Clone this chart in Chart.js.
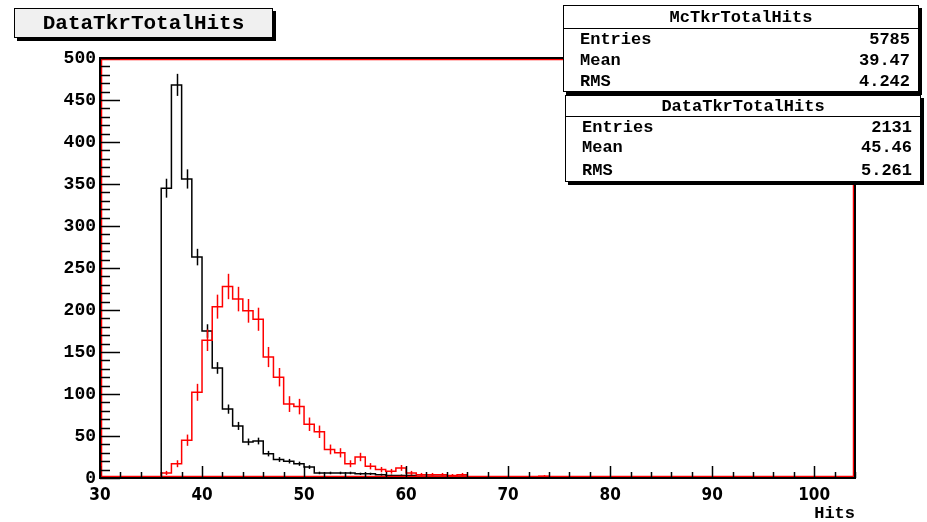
<!DOCTYPE html>
<html>
<head>
<meta charset="utf-8">
<script src="https://cdn.jsdelivr.net/npm/chart.js@4/dist/chart.umd.min.js"></script>
<style>
    body { margin: 0; background: #ffffff; }
    #wrap { position: relative; width: 927px; height: 522px; overflow: hidden; }
    #wrap canvas { position: absolute; left: 0; top: 0; }
    .box { position: absolute; border: 1px solid #000; box-shadow: 3px 3px 0 #000; font-family: "Liberation Mono", monospace; font-weight: bold; color: #000; }
    .txt { position: absolute; font-size: 17px; line-height: 20px; white-space: nowrap; }
</style>
</head>
<body>
<div id="wrap">
    <canvas id="graphHits" width="927" height="522"></canvas>

    <div class="box" style="left:14px; top:8px; width:257px; height:28px; background:#f0f0f0;">
        <div class="txt" style="left:0; width:257px; top:4px; text-align:center; font-size:21px; line-height:22px;">DataTkrTotalHits</div>
    </div>

    <div class="box" id="statsMc" style="left:563px; top:5px; width:354px; height:85px; background:#fff;"></div>
    <div class="box" id="statsData" style="left:565px; top:95px; width:354px; height:85px; background:#fff;"></div>
</div>

<script>
//Données - histogrammes TkrTotalHits (bins de largeur 1, premier bin = 36)
var binStart = 36;
var xMin = 30;
var xMax = 104;
var mcCounts = [345, 468, 356, 263, 175, 131, 82, 62, 43, 44, 29, 22, 20, 17, 13, 6, 6, 6, 6, 5, 5, 4, 3, 3, 3, 2, 2, 2, 2, 2, 0, 0, 0, 0, 1];
var dataCounts = [6, 17, 45, 102, 164, 204, 228, 213, 199, 189, 144, 120, 88, 85, 64, 55, 34, 30, 17, 25, 14, 10, 8, 12, 6, 4, 4, 4, 3, 4, 1, 1, 0, 0, 0, 1, 1, 2, 1];
var yTicks = [0, 50, 100, 150, 200, 250, 300, 350, 400, 450, 500];
var xTicks = [30, 40, 50, 60, 70, 80, 90, 100];

//Stats
var mcStats = { name: 'McTkrTotalHits', entries: '5785', mean: '39.47', rms: '4.242' };
var dataStats = { name: 'DataTkrTotalHits', entries: '2131', mean: '45.46', rms: '5.261' };

//MC normalisé sur les données -> erreur réduite
var mcScale = 2131 / 5785;

//Points au centre des bins sur toute la plage
function BuildPoints(counts) {
    var pts = [];
    for (var x = xMin; x < xMax; x++) {
        var i = x - binStart;
        var v = (i >= 0 && i < counts.length) ? counts[i] : 0;
        pts.push({ x: x + 0.5, y: v });
    }
    return pts;
}

//Boites de stats
function FillStats(boxId, st, rows) {
    var box = document.getElementById(boxId);
    var html = '<div class="txt" style="left:0; width:354px; top:' + rows[0] + 'px; text-align:center;">' + st.name + '</div>';
    html += '<div style="position:absolute; left:0; right:0; top:' + rows[4] + 'px; border-top:1px solid #000;"></div>';
    var labels = ['Entries', 'Mean', 'RMS'];
    var vals = [st.entries, st.mean, st.rms];
    for (var i = 0; i < 3; i++) {
        html += '<div class="txt" style="left:16px; top:' + rows[i + 1] + 'px;">' + labels[i] + '</div>';
        html += '<div class="txt" style="right:8px; top:' + rows[i + 1] + 'px; text-align:right;">' + vals[i] + '</div>';
    }
    box.innerHTML = html;
}
FillStats('statsMc', mcStats, [2, 24, 45, 66, 22]);
FillStats('statsData', dataStats, [1, 22, 42, 65, 20]);

//Plugin - ticks internes, barres d'erreur, cadre
var rootStyle = {
    id: 'rootStyle',
    afterDatasetsDraw: function (chart) {
        var ctx = chart.ctx;
        var xs = chart.scales.x;
        var ys = chart.scales.y;
        var a = chart.chartArea;

        //barres d'erreur
        var sets = [[mcCounts, '#000000', mcScale], [dataCounts, '#ff0000', 1]];
        ctx.save();
        ctx.lineWidth = 1.5;
        for (var s = 0; s < sets.length; s++) {
            var counts = sets[s][0];
            ctx.strokeStyle = sets[s][1];
            for (var i = 0; i < counts.length; i++) {
                if (counts[i] <= 0) continue;
                var err = Math.sqrt(counts[i] * sets[s][2]);
                var px = Math.round(xs.getPixelForValue(binStart + i + 0.5)) + 0.5;
                ctx.beginPath();
                ctx.moveTo(px, ys.getPixelForValue(counts[i] + err));
                ctx.lineTo(px, ys.getPixelForValue(Math.max(counts[i] - err, 0)));
                ctx.stroke();
            }
        }

        //cadre : rouge dedans, noir dehors
        ctx.lineWidth = 1.5;
        ctx.strokeStyle = '#ff0000';
        ctx.strokeRect(a.left + 1.5, a.top + 1.5, a.right - a.left - 3, a.bottom - a.top - 3);
        ctx.strokeStyle = '#000000';
        ctx.lineWidth = 2;
        ctx.strokeRect(a.left, a.top, a.right - a.left, a.bottom - a.top);

        //ticks X (majeurs 10, mineurs 2)
        ctx.lineWidth = 1.5;
        for (var v = xMin; v <= xMax; v += 2) {
            var tx = Math.round(xs.getPixelForValue(v)) + 0.5;
            var len = (v % 10 === 0) ? 12 : 6;
            ctx.beginPath();
            ctx.moveTo(tx, a.bottom);
            ctx.lineTo(tx, a.bottom - len);
            ctx.stroke();
        }
        //ticks Y (majeurs 50, mineurs 10)
        for (var w = 0; w <= 500; w += 10) {
            var ty = Math.round(ys.getPixelForValue(w)) + 0.5;
            var ylen = (w % 50 === 0) ? 20 : 10;
            ctx.beginPath();
            ctx.moveTo(a.left, ty);
            ctx.lineTo(a.left + ylen, ty);
            ctx.stroke();
        }
        ctx.restore();
    }
};

var ctx = document.getElementById('graphHits').getContext('2d');
var chart = new Chart(ctx, {
    type: 'line',
    data: {
        datasets: [{
            label: dataStats.name,
            data: BuildPoints(dataCounts),
            borderColor: '#ff0000',
            borderWidth: 1.5,
            stepped: 'middle',
            pointRadius: 0,
            fill: false
        }, {
            label: mcStats.name,
            data: BuildPoints(mcCounts),
            borderColor: '#000000',
            borderWidth: 1.5,
            stepped: 'middle',
            pointRadius: 0,
            fill: false
        }]
    },
    options: {
        responsive: false,
        animation: false,
        layout: { padding: { left: 0, top: 58, right: 72, bottom: 0 } },
        plugins: {
            legend: { display: false },
            tooltip: { enabled: false }
        },
        scales: {
            x: {
                type: 'linear',
                min: xMin,
                max: xMax,
                afterFit: function (scale) { scale.height = 44; },
                afterBuildTicks: function (scale) {
                    scale.ticks = xTicks.map(function (v) { return { value: v }; });
                },
                grid: { display: false, drawTicks: false },
                border: { display: false },
                ticks: {
                    padding: 7,
                    maxRotation: 0,
                    color: '#000',
                    font: { family: 'DejaVu Sans Condensed', weight: 'bold', size: 17 }
                },
                title: {
                    display: true,
                    text: 'Hits',
                    align: 'end',
                    color: '#000',
                    padding: { top: 0, bottom: 0 },
                    font: { family: 'Liberation Mono', weight: 'bold', size: 17, lineHeight: 1 }
                }
            },
            y: {
                min: 0,
                max: 500,
                afterFit: function (scale) { scale.width = 100; },
                afterBuildTicks: function (scale) {
                    scale.ticks = yTicks.map(function (v) { return { value: v }; });
                },
                grid: { display: false, drawTicks: false },
                border: { display: false },
                ticks: {
                    padding: 4,
                    color: '#000',
                    font: { family: 'Liberation Mono', weight: 'bold', size: 18 }
                }
            }
        }
    },
    plugins: [rootStyle]
});
</script>
</body>
</html>
